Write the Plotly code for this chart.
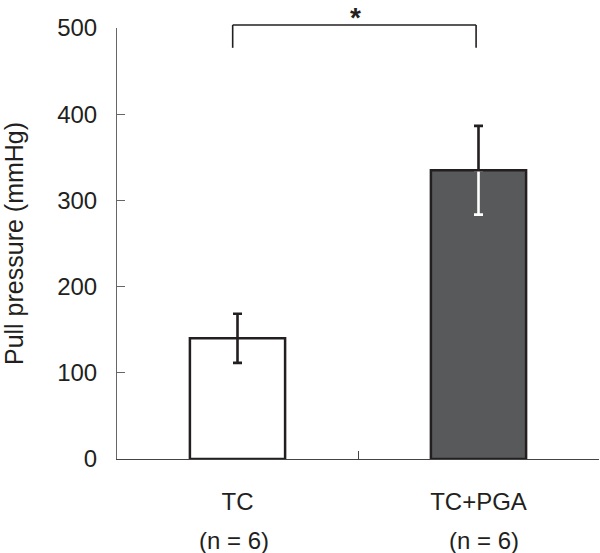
import plotly.graph_objects as go

categories = ["TC", "TC+PGA"]
means = [140, 335]
sem = [28.5, 51.5]
n_labels = ["(n = 6)", "(n = 6)"]
bar_fills = ["#ffffff", "#58595b"]
y_ticks = [0, 100, 200, 300, 400, 500]
sig_text = "*"

INK = "#231f20"
FONT = "Liberation Sans, Arial, Helvetica, sans-serif"

fig = go.Figure()

fig.add_trace(go.Bar(
    x=categories, y=means, width=0.395,
    marker=dict(color=bar_fills, line=dict(color=INK, width=2.5)),
    hoverinfo="skip", showlegend=False,
))

# white lower half of the error bar inside the dark bar
fig.add_trace(go.Scatter(
    x=[categories[1]], y=[means[1]], mode="markers",
    marker=dict(opacity=0), showlegend=False, hoverinfo="skip",
    error_y=dict(type="data", symmetric=False, array=[0], arrayminus=[sem[1]],
                 color="#ffffff", thickness=2.6, width=4.5),
))

# black error bars
fig.add_trace(go.Scatter(
    x=categories, y=means, mode="markers",
    marker=dict(opacity=0), showlegend=False, hoverinfo="skip",
    error_y=dict(type="data", symmetric=False, array=sem,
                 arrayminus=[sem[0], 0],
                 color=INK, thickness=2.6, width=4.5),
))

# significance bracket
bx0, bx1 = -0.02, 0.99
ytop, ydrop = 1.007, 0.954
for (x0, y0, x1, y1) in [(bx0, ydrop, bx0, ytop), (bx0, ytop, bx1, ytop), (bx1, ytop, bx1, ydrop)]:
    fig.add_shape(type="line", xref="x", yref="paper", x0=x0, y0=y0, x1=x1, y1=y1,
                  line=dict(color=INK, width=1.6))

fig.add_annotation(x=0.49, xref="x", y=1.064, yref="paper", text="<b>" + sig_text + "</b>",
                   showarrow=False, yanchor="top", font=dict(size=28, color=INK, family=FONT))

for i, lab in enumerate(n_labels):
    fig.add_annotation(x=categories[i], xref="x", y=-0.19, yref="paper", text=lab,
                       xshift=[-4, 5][i], showarrow=False, yanchor="middle",
                       font=dict(size=24, color=INK, family=FONT))

fig.update_layout(
    width=600, height=553,
    margin=dict(l=117, r=1, t=28, b=94, autoexpand=False),
    plot_bgcolor="#ffffff", paper_bgcolor="#ffffff",
    font=dict(family=FONT, color=INK, size=24),
    bargap=0.6,
    xaxis=dict(
        type="category", range=[-0.5, 1.5], tickson="boundaries",
        ticks="inside", ticklen=8, tickcolor="#444444", tickwidth=1,
        showline=True, linecolor="#444444", linewidth=1.2,
        showgrid=False, zeroline=False, automargin=False,
        tickfont=dict(size=24, color=INK), ticklabelstandoff=21,
    ),
    yaxis=dict(
        range=[0, 500], tickvals=y_ticks,
        ticks="inside", ticklen=8, tickcolor="#666666", tickwidth=1,
        showline=True, linecolor="#666666", linewidth=1,
        showgrid=False, zeroline=False, automargin=False,
        tickfont=dict(size=24, color=INK), ticklabelstandoff=14,
        title=dict(text="Pull pressure (mmHg)", font=dict(size=25, color=INK), standoff=28),
    ),
)

fig.write_html("out.html", config={"displayModeBar": False},
               post_script="document.body.style.margin='0';")
